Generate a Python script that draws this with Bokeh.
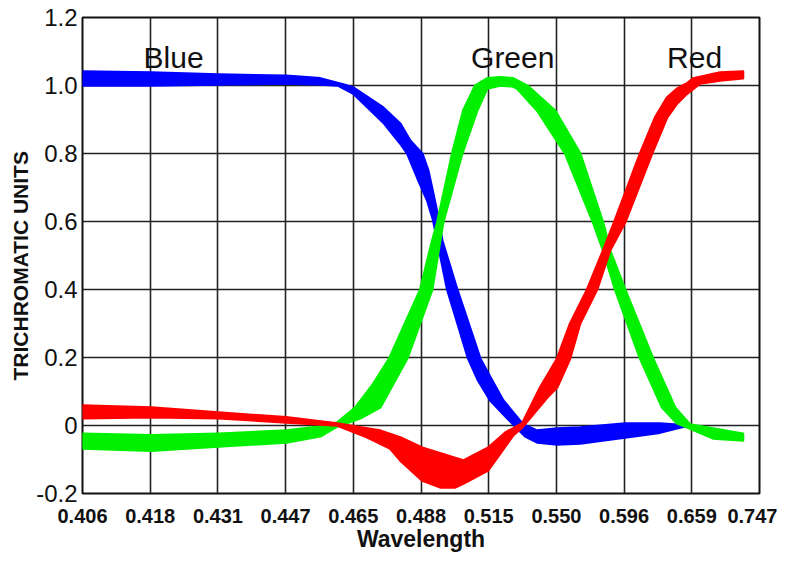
from bokeh.plotting import figure
from bokeh.models import FixedTicker, Title
from bokeh.embed import file_html
from bokeh.resources import INLINE
from bokeh.core.properties import value

# ---- data (x in tick-index units, evenly spaced wavelength ticks) ----
x_tick_labels = ["0.406", "0.418", "0.431", "0.447", "0.465", "0.488",
                 "0.515", "0.550", "0.596", "0.659", "0.747"]
y_ticks = [-0.2, 0, 0.2, 0.4, 0.6, 0.8, 1.0, 1.2]
y_tick_labels = ["-0.2", "0", "0.2", "0.4", "0.6", "0.8", "1.0", "1.2"]

# Blue band: upper and lower envelope of the observer curves
blue_hi_x = [0, 1.018, 2.007, 3.011, 3.513, 3.852, 4.000, 4.443, 4.694, 4.841,
             5.018, 5.107, 5.181, 5.255, 5.314, 5.535, 5.875, 6.052, 6.214, 6.509,
             6.716, 7.011, 7.351, 8.015, 8.531, 8.945]
blue_hi_y = [1.041, 1.038, 1.032, 1.029, 1.021, 1.003, 0.994, 0.935, 0.888, 0.838,
             0.800, 0.750, 0.682, 0.612, 0.544, 0.400, 0.197, 0.132, 0.074, 0.003,
             -0.015, -0.009, -0.006, 0.006, 0.006, 0.0]
blue_lo_x = [0, 1.018, 2.007, 3.011, 3.513, 3.771, 4.000, 4.443, 4.694, 4.797,
             4.944, 5.092, 5.181, 5.240, 5.387, 5.697, 5.845, 6.022, 6.362, 6.539,
             6.716, 7.011, 7.351, 8.015, 8.531, 8.945]
blue_lo_y = [1.0, 1.0, 1.003, 1.006, 1.003, 1.0, 0.976, 0.891, 0.829, 0.800,
             0.729, 0.662, 0.603, 0.544, 0.400, 0.197, 0.132, 0.074, 0.003, -0.032,
             -0.050, -0.056, -0.053, -0.035, -0.021, 0.0]

# Green band
green_hi_x = [0, 1.018, 2.007, 3.011, 3.513, 3.764, 4.030, 4.280, 4.531, 4.989,
              5.166, 5.240, 5.461, 5.624, 5.801, 5.978, 6.170, 6.362, 6.568, 6.982,
              7.351, 7.690, 7.793, 8.015, 8.428, 8.753, 8.974, 9.314, 9.757]
green_hi_y = [-0.024, -0.029, -0.024, -0.015, -0.003, 0.009, 0.053, 0.118, 0.197,
              0.400, 0.544, 0.597, 0.800, 0.926, 1.0, 1.021, 1.024, 1.021, 1.0,
              0.926, 0.800, 0.597, 0.515, 0.400, 0.197, 0.053, 0.003, -0.009, -0.024]
green_lo_x = [0, 1.018, 2.007, 3.011, 3.513, 3.764, 4.103, 4.399, 4.797, 5.166,
              5.284, 5.328, 5.609, 5.830, 5.978, 6.170, 6.362, 6.421, 6.716, 7.129,
              7.542, 7.690, 7.867, 8.236, 8.561, 8.782, 8.974, 9.314, 9.757]
green_lo_y = [-0.068, -0.074, -0.062, -0.050, -0.032, -0.003, 0.021, 0.053, 0.197,
              0.400, 0.544, 0.597, 0.800, 0.926, 0.991, 1.0, 0.997, 0.991, 0.926,
              0.800, 0.597, 0.515, 0.400, 0.197, 0.053, 0.006, -0.009, -0.038, -0.044]

# Red band
red_hi_x = [0, 1.018, 2.007, 3.011, 3.764, 4.207, 4.399, 4.694, 5.018, 5.387,
            5.624, 5.993, 6.244, 6.494, 6.760, 7.011, 7.203, 7.454, 7.690,
            7.852, 8.236, 8.458, 8.635, 8.782, 8.930, 9.018, 9.417, 9.757]
red_hi_y = [0.059, 0.053, 0.038, 0.024, 0.006, -0.009, -0.015, -0.035, -0.065,
            -0.088, -0.103, -0.065, -0.021, 0.006, 0.112, 0.197, 0.300, 0.400,
            0.515, 0.597, 0.800, 0.906, 0.965, 0.991, 1.006, 1.021, 1.038, 1.041]
red_lo_x = [0, 1.018, 2.007, 3.011, 3.764, 4.207, 4.546, 4.694, 5.018, 5.284,
            5.506, 5.624, 5.993, 6.362, 6.494, 6.863, 7.011, 7.203, 7.351,
            7.601, 7.793, 8.015, 8.413, 8.635, 8.782, 8.930, 9.122, 9.417, 9.757]
red_lo_y = [0.021, 0.024, 0.021, 0.009, 0.0, -0.035, -0.068, -0.103, -0.162,
            -0.182, -0.182, -0.171, -0.132, -0.029, -0.006, 0.082, 0.112, 0.197,
            0.300, 0.400, 0.515, 0.597, 0.800, 0.906, 0.947, 0.976, 1.006, 1.015,
            1.021]

series = [
    ("Blue", "#0000FF", blue_hi_x, blue_hi_y, blue_lo_x, blue_lo_y),
    ("Green", "#00F000", green_hi_x, green_hi_y, green_lo_x, green_lo_y),
    ("Red", "#FF0000", red_hi_x, red_hi_y, red_lo_x, red_lo_y),
]
label_x = [1.345, 6.355, 9.041]
label_y = [1.083, 1.083, 1.083]

FONT = "Liberation Sans"

p = figure(width=777, height=556, output_backend="svg", toolbar_location=None,
           x_range=(0, 10), y_range=(-0.2, 1.2),
           min_border_left=82, min_border_right=18, min_border_top=17,
           min_border_bottom=63)
p.background_fill_color = "white"
p.border_fill_color = "white"
p.outline_line_color = "#111111"
p.outline_line_width = 2

# grid
p.xgrid.grid_line_color = "#222222"
p.ygrid.grid_line_color = "#222222"
p.xgrid.grid_line_width = 1.6
p.ygrid.grid_line_width = 1.6

# axes
p.xaxis.ticker = FixedTicker(ticks=list(range(len(x_tick_labels))))
p.xaxis.major_label_overrides = {i: t for i, t in enumerate(x_tick_labels)}
p.yaxis.ticker = FixedTicker(ticks=y_ticks)
p.yaxis.major_label_overrides = dict(zip(y_ticks, y_tick_labels))
for ax in (p.xaxis, p.yaxis):
    ax.axis_line_color = None
    ax.major_tick_line_color = None
    ax.minor_tick_line_color = None
    ax.major_tick_out = 0
    ax.major_tick_in = 0
    ax.major_label_text_font = FONT
    ax.major_label_text_color = "#111111"
p.xaxis.major_label_text_font_size = "20px"
p.xaxis.major_label_text_font_style = "bold"
p.xaxis.major_label_standoff = 15
p.yaxis.major_label_text_font_size = "24px"
p.yaxis.major_label_standoff = 5
p.xaxis.axis_label = "Wavelength"
p.xaxis.axis_label_text_font = FONT
p.xaxis.axis_label_text_font_size = "23px"
p.xaxis.axis_label_text_font_style = "bold"
p.xaxis.axis_label_text_color = "#111111"
p.xaxis.axis_label_standoff = 0

ytitle = Title(text="TRICHROMATIC UNITS", align="left", offset=113,
               text_font=FONT, text_font_size="21px", text_font_style="bold",
               text_color="#111111", standoff=4)
p.add_layout(ytitle, "left")

# bands
for name, color, hx, hy, lx, ly in series:
    xs = list(hx) + list(reversed(lx))
    ys = list(hy) + list(reversed(ly))
    p.patch(xs, ys, fill_color=color, line_color=color, line_width=2.5,
            line_join="round")

# curve labels
p.text(x=label_x, y=label_y, text=[s[0] for s in series],
       text_font=value(FONT), text_font_size="30px", text_color="#111111",
       text_align="center", text_baseline="alphabetic")

open("out.html", "w").write(file_html(p, INLINE))
